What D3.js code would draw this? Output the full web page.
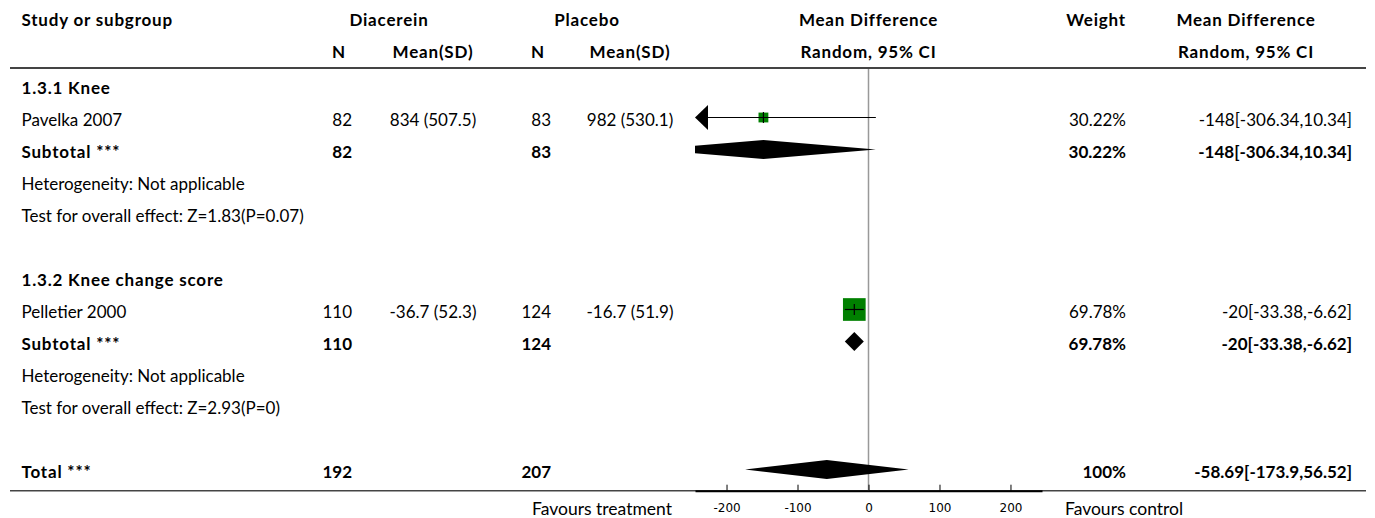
<!DOCTYPE html>
<html>
<head>
<meta charset="utf-8">
<script src="https://cdn.jsdelivr.net/npm/d3@7"></script>
<style>
  html, body { margin: 0; padding: 0; background: #fff; }
  svg text { font-family: Lato, "Noto Sans", sans-serif; font-size: 17px; fill: #000; }
  svg text.b { font-weight: bold; }
  svg text.lbl { letter-spacing: 0.8px; }
  svg text.fav { font-size: 17.5px; }
  svg .tick text { font-family: "DejaVu Sans", sans-serif; font-size: 12px; letter-spacing: 0; }
</style>
</head>
<body>
<svg id="chart" width="1375" height="518"></svg>
<script>
// Forest plot data: Diacerein vs Placebo, mean difference (random effects)
const groupTitles = ["1.3.1 Knee", "1.3.2 Knee change score"];
const studyNames = ["Pavelka 2007", "Pelletier 2000"];
const treatN = [82, 110];
const treatMeanSD = ["834 (507.5)", "-36.7 (52.3)"];
const ctrlN = [83, 124];
const ctrlMeanSD = ["982 (530.1)", "-16.7 (51.9)"];
const studyMD = [-148, -20];
const studyLo = [-306.34, -33.38];
const studyHi = [10.34, -6.62];
const studyWeight = [30.22, 69.78];
const subtotalMD = [-148, -20];
const subtotalLo = [-306.34, -33.38];
const subtotalHi = [10.34, -6.62];
const subtotalWeight = [30.22, 69.78];
const heterogeneityText = ["Heterogeneity: Not applicable", "Heterogeneity: Not applicable"];
const overallEffectText = ["Test for overall effect: Z=1.83(P=0.07)", "Test for overall effect: Z=2.93(P=0)"];
const totalN = [192, 207];
const totalMD = -58.69;
const totalLo = -173.9;
const totalHi = 56.52;
const totalWeight = 100;
const axisTicks = [-200, -100, 0, 100, 200];
const axisDomain = [-244.4, 244.4];

const svg = d3.select("#chart");

// Column anchors
const col = {
  label: 21.5,
  tGrp: 389, tNh: 339, tN: 352, tMS: 433,
  cGrp: 587, cNh: 538, cN: 551, cMS: 630,
  weight: 1126, ci: 1352,
  plotL: 695, plotR: 1042
};
const x = d3.scaleLinear().domain(axisDomain).range([col.plotL, col.plotR]);
const boxSize = d3.scaleLinear().domain([0, 100]).range([0, 32.5]);

// Row layout: row i centre
const rowY = i => 85.5 + i * 32;
const baseOff = 8.5;
const axisY = 490.7;

// Build a flat list of rows
const rows = [];
groupTitles.forEach((g, gi) => {
  rows.push({ kind: "group", label: g });
  rows.push({ kind: "study", gi });
  rows.push({ kind: "subtotal", gi });
  rows.push({ kind: "text", label: heterogeneityText[gi] });
  rows.push({ kind: "text", label: overallEffectText[gi] });
  rows.push({ kind: "blank" });
});
rows.push({ kind: "total" });

const fmtCI = (m, l, h) => `${m}[${l},${h}]`;

// Header
const hdr = svg.append("g");
function htext(xp, y, t, anchor) {
  hdr.append("text").attr("class", "b lbl").attr("x", xp).attr("y", y)
    .attr("text-anchor", anchor).text(t);
}
htext(col.label, 26, "Study or subgroup", "start");
htext(col.tGrp, 26, "Diacerein", "middle");
htext(col.cGrp, 26, "Placebo", "middle");
htext(x(0), 26, "Mean Difference", "middle");
htext(col.weight, 26, "Weight", "end");
htext(1246, 26, "Mean Difference", "middle");
htext(col.tNh, 58, "N", "middle");
htext(col.tMS, 58, "Mean(SD)", "middle");
htext(col.cNh, 58, "N", "middle");
htext(col.cMS, 58, "Mean(SD)", "middle");
htext(x(0), 58, "Random, 95% CI", "middle");
htext(1246, 58, "Random, 95% CI", "middle");

// Rules
svg.append("line").attr("x1", 10).attr("x2", 1366).attr("y1", 68).attr("y2", 68)
  .attr("stroke", "#444").attr("stroke-width", 2);
svg.append("line").attr("x1", 10).attr("x2", 1366).attr("y1", axisY).attr("y2", axisY)
  .attr("stroke", "#444").attr("stroke-width", 1.5);

// Zero line
svg.append("line").attr("x1", x(0)).attr("x2", x(0)).attr("y1", 69).attr("y2", axisY)
  .attr("stroke", "#999").attr("stroke-width", 1.5);

// Clip for the plot region
svg.append("clipPath").attr("id", "plotClip").append("rect")
  .attr("x", col.plotL).attr("y", 60).attr("width", col.plotR - col.plotL).attr("height", 440);

const body = svg.append("g");
const marks = svg.append("g").attr("clip-path", "url(#plotClip)");

function txt(xp, y, t, anchor, cls) {
  body.append("text").attr("x", xp).attr("y", y).attr("text-anchor", anchor)
    .attr("class", cls || null).text(t);
}
function diamond(cy, m, l, h) {
  const hh = 9.5;
  marks.append("path")
    .attr("d", `M${x(l)},${cy} L${x(m)},${cy - hh} L${x(h)},${cy} L${x(m)},${cy + hh} Z`)
    .attr("fill", "#000");
}

rows.forEach((r, i) => {
  const cy = rowY(i), by = cy + baseOff;
  if (r.kind === "group") txt(col.label, by, r.label, "start", "b lbl");
  else if (r.kind === "text") txt(col.label, by, r.label, "start");
  else if (r.kind === "study") {
    const k = r.gi;
    txt(col.label, by, studyNames[k], "start");
    txt(col.tN, by, treatN[k], "end");
    txt(col.tMS, by, treatMeanSD[k], "middle");
    txt(col.cN, by, ctrlN[k], "end");
    txt(col.cMS, by, ctrlMeanSD[k], "middle");
    txt(col.weight, by, studyWeight[k] + "%", "end");
    txt(col.ci, by, fmtCI(studyMD[k], studyLo[k], studyHi[k]), "end");
    // Weighted box
    const s = boxSize(studyWeight[k]);
    marks.append("rect").attr("x", x(studyMD[k]) - s / 2).attr("y", cy - s / 2)
      .attr("width", s).attr("height", s).attr("fill", "#008000");
    // CI line, with an arrow where it runs past the axis
    const arrowW = 13, arrowH = 12.5;
    let lx = x(studyLo[k]);
    if (studyLo[k] < axisDomain[0]) {
      marks.append("path")
        .attr("d", `M${col.plotL},${cy} L${col.plotL + arrowW},${cy - arrowH} L${col.plotL + arrowW},${cy + arrowH} Z`)
        .attr("fill", "#000");
      lx = col.plotL + arrowW;
    }
    marks.append("line").attr("x1", lx).attr("x2", x(Math.min(studyHi[k], axisDomain[1])))
      .attr("y1", cy).attr("y2", cy).attr("stroke", "#000").attr("stroke-width", 1.2);
    marks.append("line").attr("x1", x(studyMD[k])).attr("x2", x(studyMD[k]))
      .attr("y1", cy - 5.5).attr("y2", cy + 5.5).attr("stroke", "#000").attr("stroke-width", 1.2);
  } else if (r.kind === "subtotal") {
    const k = r.gi;
    txt(col.label, by, "Subtotal ***", "start", "b lbl");
    txt(col.tN, by, treatN[k], "end", "b");
    txt(col.cN, by, ctrlN[k], "end", "b");
    txt(col.weight, by, subtotalWeight[k] + "%", "end", "b");
    txt(col.ci, by, fmtCI(subtotalMD[k], subtotalLo[k], subtotalHi[k]), "end", "b");
    diamond(cy, subtotalMD[k], subtotalLo[k], subtotalHi[k]);
  } else if (r.kind === "total") {
    txt(col.label, by, "Total ***", "start", "b lbl");
    txt(col.tN, by, totalN[0], "end", "b");
    txt(col.cN, by, totalN[1], "end", "b");
    txt(col.weight, by, totalWeight + "%", "end", "b");
    txt(col.ci, by, fmtCI(totalMD, totalLo, totalHi), "end", "b");
    diamond(cy, totalMD, totalLo, totalHi);
  }
});

// Axis
const axis = d3.axisBottom(x).tickValues(axisTicks).tickSizeInner(-6).tickSizeOuter(0).tickPadding(12.5)
  .tickFormat(d => String(d));
const ag = svg.append("g").attr("transform", `translate(0,${axisY})`).call(axis);
ag.select(".domain").attr("stroke", "#000").attr("stroke-width", 2);
ag.selectAll(".tick line").attr("stroke", "#000");
ag.selectAll(".tick text").attr("fill", "#000");

// Favours labels
svg.append("text").attr("class", "fav").attr("x", 672).attr("y", 515).attr("text-anchor", "end").text("Favours treatment");
svg.append("text").attr("class", "fav").attr("x", 1065).attr("y", 515).attr("text-anchor", "start").text("Favours control");
</script>
</body>
</html>
